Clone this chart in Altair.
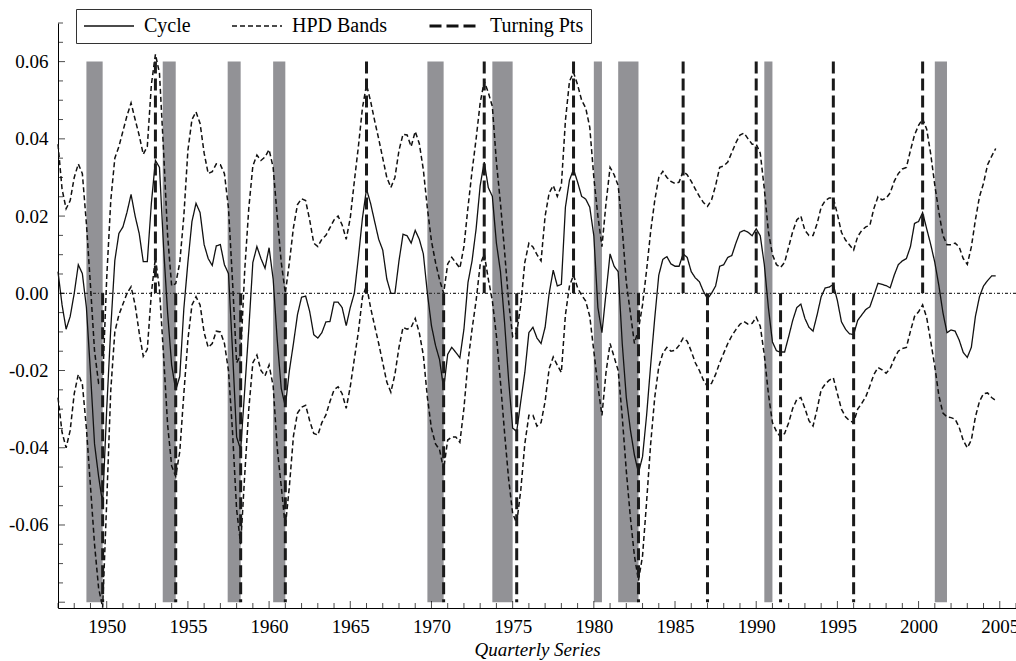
import altair as alt
import pandas as pd

# ---------------- data (quarterly, starting 1947Q1) ----------------
START_YEAR = 1947.0

cycle = [
    0.0056, -0.0030, -0.0093, -0.0060,   # 1947
    0.0000, 0.0074, 0.0051, -0.0037,     # 1948
    -0.0205, -0.0390, -0.0474, -0.0544,  # 1949
    -0.0300, -0.0090, 0.0085, 0.0155,    # 1950
    0.0172, 0.0210, 0.0256, 0.0200,      # 1951
    0.0155, 0.0082, 0.0082, 0.0233,      # 1952
    0.0344, 0.0326, 0.0120, -0.0050,     # 1953
    -0.0186, -0.0251, -0.0215, -0.0040,  # 1954
    0.0080, 0.0186, 0.0233, 0.0209,      # 1955
    0.0126, 0.0090, 0.0072, 0.0123,      # 1956
    0.0126, 0.0074, 0.0051, -0.0150,     # 1957
    -0.0372, -0.0405, -0.0250, -0.0093,  # 1958
    0.0080, 0.0121, 0.0090, 0.0065,      # 1959
    0.0118, 0.0037, -0.0120, -0.0247,    # 1960
    -0.0293, -0.0200, -0.0130, -0.0055,  # 1961
    -0.0010, -0.0007, -0.0047, -0.0107,  # 1962
    -0.0116, -0.0102, -0.0074, -0.0073,  # 1963
    -0.0023, -0.0023, -0.0037, -0.0084,  # 1964
    -0.0037, 0.0000, 0.0093, 0.0195,     # 1965
    0.0270, 0.0233, 0.0186, 0.0140,      # 1966
    0.0112, 0.0037, 0.0000, 0.0000,      # 1967
    0.0084, 0.0153, 0.0149, 0.0130,      # 1968
    0.0163, 0.0140, 0.0102, 0.0000,      # 1969
    -0.0084, -0.0135, -0.0172, -0.0247,  # 1970
    -0.0158, -0.0140, -0.0153, -0.0167,  # 1971
    -0.0093, 0.0028, 0.0084, 0.0167,     # 1972
    0.0279, 0.0340, 0.0274, 0.0251,      # 1973
    0.0130, 0.0056, -0.0074, -0.0223,    # 1974
    -0.0349, -0.0358, -0.0280, -0.0205,  # 1975
    -0.0102, -0.0088, -0.0116, -0.0130,  # 1976
    -0.0088, 0.0000, 0.0060, 0.0019,     # 1977
    0.0023, 0.0223, 0.0293, 0.0321,      # 1978
    0.0288, 0.0251, 0.0244, 0.0223,      # 1979
    0.0149, -0.0037, -0.0102, 0.0000,    # 1980
    0.0102, 0.0070, 0.0056, -0.0130,     # 1981
    -0.0270, -0.0353, -0.0419, -0.0465,  # 1982
    -0.0423, -0.0316, -0.0186, -0.0065,  # 1983
    0.0047, 0.0088, 0.0095, 0.0076,      # 1984
    0.0070, 0.0070, 0.0102, 0.0093,      # 1985
    0.0056, 0.0040, 0.0030, 0.0005,      # 1986
    -0.0014, 0.0000, 0.0019, 0.0070,     # 1987
    0.0074, 0.0093, 0.0098, 0.0130,      # 1988
    0.0158, 0.0163, 0.0158, 0.0149,      # 1989
    0.0167, 0.0149, 0.0074, -0.0037,     # 1990
    -0.0126, -0.0149, -0.0152, -0.0152,  # 1991
    -0.0112, -0.0070, -0.0037, -0.0028,  # 1992
    -0.0065, -0.0088, -0.0098, -0.0056,  # 1993
    -0.0009, 0.0014, 0.0016, 0.0023,     # 1994
    -0.0019, -0.0074, -0.0093, -0.0105,  # 1995
    -0.0107, -0.0070, -0.0056, -0.0042,  # 1996
    -0.0035, -0.0005, 0.0026, 0.0023,    # 1997
    0.0020, 0.0014, 0.0047, 0.0074,      # 1998
    0.0084, 0.0090, 0.0121, 0.0181,      # 1999
    0.0186, 0.0209, 0.0167, 0.0126,      # 2000
    0.0080, 0.0020, -0.0050, -0.0102,    # 2001
    -0.0095, -0.0098, -0.0121, -0.0153,  # 2002
    -0.0166, -0.0140, -0.0060, -0.0009,  # 2003
    0.0019, 0.0033, 0.0045, 0.0045,      # 2004
]

hpd_upper = [
    0.0386, 0.0270, 0.0219, 0.0240,      # 1947
    0.0300, 0.0335, 0.0310, 0.0180,      # 1948
    0.0020, -0.0149, -0.0233, -0.0230,   # 1949
    0.0040, 0.0240, 0.0350, 0.0380,      # 1950
    0.0420, 0.0460, 0.0493, 0.0450,      # 1951
    0.0409, 0.0360, 0.0380, 0.0540,      # 1952
    0.0619, 0.0570, 0.0370, 0.0150,      # 1953
    0.0019, 0.0025, 0.0080, 0.0200,      # 1954
    0.0370, 0.0450, 0.0470, 0.0440,      # 1955
    0.0363, 0.0310, 0.0315, 0.0335,      # 1956
    0.0333, 0.0310, 0.0220, 0.0030,      # 1957
    -0.0180, -0.0160, 0.0060, 0.0220,    # 1958
    0.0330, 0.0358, 0.0344, 0.0353,      # 1959
    0.0372, 0.0326, 0.0200, 0.0080,      # 1960
    0.0000, 0.0080, 0.0170, 0.0230,      # 1961
    0.0245, 0.0240, 0.0190, 0.0130,      # 1962
    0.0121, 0.0140, 0.0150, 0.0170,      # 1963
    0.0190, 0.0200, 0.0177, 0.0140,      # 1964
    0.0195, 0.0290, 0.0380, 0.0480,      # 1965
    0.0540, 0.0498, 0.0447, 0.0400,      # 1966
    0.0350, 0.0300, 0.0274, 0.0300,      # 1967
    0.0370, 0.0412, 0.0410, 0.0380,      # 1968
    0.0419, 0.0388, 0.0320, 0.0220,      # 1969
    0.0135, 0.0080, 0.0035, 0.0000,      # 1970
    0.0076, 0.0093, 0.0079, 0.0065,      # 1971
    0.0121, 0.0223, 0.0316, 0.0400,      # 1972
    0.0493, 0.0549, 0.0520, 0.0484,      # 1973
    0.0340, 0.0233, 0.0110, -0.0020,     # 1974
    -0.0112, -0.0102, -0.0030, 0.0080,   # 1975
    0.0130, 0.0120, 0.0100, 0.0084,      # 1976
    0.0200, 0.0260, 0.0279, 0.0251,      # 1977
    0.0279, 0.0447, 0.0549, 0.0572,      # 1978
    0.0540, 0.0500, 0.0480, 0.0430,      # 1979
    0.0300, 0.0200, 0.0121, 0.0233,      # 1980
    0.0326, 0.0307, 0.0279, 0.0167,      # 1981
    0.0028, -0.0050, -0.0130, -0.0093,   # 1982
    -0.0030, 0.0060, 0.0160, 0.0240,     # 1983
    0.0300, 0.0316, 0.0300, 0.0290,      # 1984
    0.0284, 0.0288, 0.0316, 0.0307,      # 1985
    0.0290, 0.0270, 0.0251, 0.0235,      # 1986
    0.0225, 0.0242, 0.0279, 0.0326,      # 1987
    0.0330, 0.0340, 0.0365, 0.0390,      # 1988
    0.0410, 0.0415, 0.0400, 0.0386,      # 1989
    0.0386, 0.0363, 0.0270, 0.0160,      # 1990
    0.0100, 0.0074, 0.0067, 0.0080,      # 1991
    0.0120, 0.0160, 0.0190, 0.0200,      # 1992
    0.0163, 0.0150, 0.0150, 0.0180,      # 1993
    0.0223, 0.0240, 0.0247, 0.0247,      # 1994
    0.0205, 0.0158, 0.0138, 0.0125,      # 1995
    0.0112, 0.0147, 0.0163, 0.0172,      # 1996
    0.0176, 0.0220, 0.0250, 0.0242,      # 1997
    0.0246, 0.0260, 0.0290, 0.0310,      # 1998
    0.0322, 0.0326, 0.0370, 0.0410,      # 1999
    0.0435, 0.0452, 0.0425, 0.0360,      # 2000
    0.0280, 0.0210, 0.0150, 0.0126,      # 2001
    0.0126, 0.0130, 0.0120, 0.0090,      # 2002
    0.0075, 0.0120, 0.0190, 0.0250,      # 2003
    0.0285, 0.0333, 0.0355, 0.0375,      # 2004
]

hpd_lower = [
    -0.0270, -0.0360, -0.0400, -0.0355,  # 1947
    -0.0260, -0.0210, -0.0235, -0.0350,  # 1948
    -0.0500, -0.0650, -0.0763, -0.0814,  # 1949
    -0.0540, -0.0251, -0.0100, -0.0056,  # 1950
    -0.0028, 0.0000, 0.0017, -0.0030,    # 1951
    -0.0102, -0.0163, -0.0145, 0.0000,   # 1952
    0.0093, 0.0010, -0.0160, -0.0340,    # 1953
    -0.0447, -0.0474, -0.0410, -0.0260,  # 1954
    -0.0120, -0.0030, -0.0009, -0.0030,  # 1955
    -0.0102, -0.0140, -0.0130, -0.0098,  # 1956
    -0.0100, -0.0130, -0.0200, -0.0360,  # 1957
    -0.0560, -0.0650, -0.0470, -0.0300,  # 1958
    -0.0180, -0.0160, -0.0200, -0.0214,  # 1959
    -0.0186, -0.0240, -0.0400, -0.0500,  # 1960
    -0.0605, -0.0500, -0.0370, -0.0310,  # 1961
    -0.0295, -0.0290, -0.0330, -0.0363,  # 1962
    -0.0367, -0.0335, -0.0315, -0.0280,  # 1963
    -0.0250, -0.0242, -0.0260, -0.0298,  # 1964
    -0.0242, -0.0170, -0.0100, -0.0010,  # 1965
    0.0020, -0.0037, -0.0084, -0.0130,   # 1966
    -0.0180, -0.0230, -0.0256, -0.0210,  # 1967
    -0.0140, -0.0088, -0.0093, -0.0088,  # 1968
    -0.0065, -0.0102, -0.0160, -0.0270,  # 1969
    -0.0350, -0.0390, -0.0405, -0.0456,  # 1970
    -0.0380, -0.0372, -0.0372, -0.0386,  # 1971
    -0.0298, -0.0177, -0.0093, -0.0019,  # 1972
    0.0074, 0.0102, 0.0037, -0.0019,     # 1973
    -0.0110, -0.0230, -0.0360, -0.0480,  # 1974
    -0.0570, -0.0595, -0.0510, -0.0390,  # 1975
    -0.0316, -0.0316, -0.0344, -0.0335,  # 1976
    -0.0280, -0.0195, -0.0165, -0.0186,  # 1977
    -0.0205, -0.0056, 0.0019, 0.0047,    # 1978
    0.0014, -0.0005, -0.0020, -0.0060,   # 1979
    -0.0150, -0.0240, -0.0316, -0.0205,  # 1980
    -0.0130, -0.0165, -0.0200, -0.0320,  # 1981
    -0.0460, -0.0580, -0.0680, -0.0744,  # 1982
    -0.0680, -0.0540, -0.0390, -0.0270,  # 1983
    -0.0190, -0.0155, -0.0140, -0.0150,  # 1984
    -0.0148, -0.0135, -0.0116, -0.0124,  # 1985
    -0.0150, -0.0180, -0.0200, -0.0225,  # 1986
    -0.0242, -0.0233, -0.0210, -0.0180,  # 1987
    -0.0155, -0.0130, -0.0110, -0.0094,  # 1988
    -0.0080, -0.0073, -0.0080, -0.0078,  # 1989
    -0.0062, -0.0085, -0.0160, -0.0260,  # 1990
    -0.0335, -0.0358, -0.0372, -0.0363,  # 1991
    -0.0335, -0.0298, -0.0275, -0.0270,  # 1992
    -0.0298, -0.0330, -0.0344, -0.0300,  # 1993
    -0.0250, -0.0235, -0.0225, -0.0219,  # 1994
    -0.0260, -0.0300, -0.0320, -0.0330,  # 1995
    -0.0335, -0.0300, -0.0285, -0.0268,  # 1996
    -0.0240, -0.0210, -0.0192, -0.0198,  # 1997
    -0.0207, -0.0195, -0.0170, -0.0150,  # 1998
    -0.0143, -0.0140, -0.0098, -0.0060,  # 1999
    -0.0048, -0.0030, -0.0063, -0.0125,  # 2000
    -0.0190, -0.0265, -0.0310, -0.0320,  # 2001
    -0.0322, -0.0326, -0.0347, -0.0381,  # 2002
    -0.0400, -0.0380, -0.0320, -0.0280,  # 2003
    -0.0260, -0.0258, -0.0270, -0.0278,  # 2004
]

# NBER recession shading
rec_start = [1948.75, 1953.45, 1957.45, 1960.25, 1969.75, 1973.75, 1980.0, 1981.5, 1990.5, 2001.0]
rec_end = [1949.75, 1954.25, 1958.25, 1961.0, 1970.75, 1975.0, 1980.5, 1982.75, 1991.0, 2001.75]
shade_low = -0.08
shade_high = 0.06

# Turning points
peak_years = [1953.0, 1966.0, 1973.25, 1978.75, 1985.5, 1990.0, 1994.75, 2000.25]
trough_years = [1949.75, 1954.25, 1958.25, 1961.0, 1970.75, 1975.25, 1982.75, 1987.0, 1991.5, 1996.0]
peak_span = [0.06, 0.0]
trough_span = [0.0, -0.08]

# legend labels (trailing no-break spaces only widen the legend box)
series_names = ["Cycle", "HPD Bands", "Turning Pts" + "\u00a0" * 7]
zero_level = [0.0]

x_label_values = [1950, 1955, 1960, 1965, 1970, 1975, 1980, 1985, 1990, 1995, 2000, 2005]
y_label_values = [-0.06, -0.04, -0.02, 0.0, 0.02, 0.04, 0.06]
x_tick_years = list(range(1947, 2007))
y_tick_values = [round(-0.08 + 0.005 * i, 3) for i in range(31)]

# ---------------- tables ----------------
def quarter_years(vals):
    return [START_YEAR + 0.25 * i for i in range(len(vals))]

lines_df = pd.concat([
    pd.DataFrame({"year": quarter_years(cycle), "value": cycle,
                  "series": series_names[0], "band": "cycle"}),
    pd.DataFrame({"year": quarter_years(hpd_upper), "value": hpd_upper,
                  "series": series_names[1], "band": "upper"}),
    pd.DataFrame({"year": quarter_years(hpd_lower), "value": hpd_lower,
                  "series": series_names[1], "band": "lower"}),
], ignore_index=True)

rec_df = pd.DataFrame({"year": rec_start, "end": rec_end,
                       "value": shade_low, "hi": shade_high})

tp_df = pd.concat([
    pd.DataFrame({"year": peak_years, "value": peak_span[0], "y1": peak_span[1]}),
    pd.DataFrame({"year": trough_years, "value": trough_span[0], "y1": trough_span[1]}),
], ignore_index=True)
tp_df["series"] = series_names[2]

zero_df = pd.DataFrame({"value": zero_level})
xt_df = pd.DataFrame({"year": x_tick_years})
xt_df["major"] = xt_df["year"] % 5 == 0
yt_df = pd.DataFrame({"value": y_tick_values})
yt_df["major"] = [abs(round(v / 0.02) * 0.02 - v) < 1e-9 for v in y_tick_values]

# ---------------- chart ----------------
W, H = 958, 585
FONT = "Liberation Serif"
INK = "#111111"
FS = 19

xs = alt.Scale(domain=[1947, 2006], nice=False, zero=False)
ys = alt.Scale(domain=[-0.0815, 0.07], nice=False, zero=False)

x_axis = alt.Axis(values=x_label_values, format="d", ticks=False, grid=False,
                  domainColor="black", domainWidth=1,
                  labelFont=FONT, labelFontSize=FS, labelColor="black",
                  labelPadding=9, labelFlush=False, labelOverlap=False,
                  titleFont=FONT, titleFontSize=FS, titleFontStyle="italic",
                  titleFontWeight="normal", titleColor="black", titlePadding=4)
y_axis = alt.Axis(values=y_label_values, ticks=False, grid=False,
                  domainColor="black", domainWidth=1,
                  labelExpr="replace(format(datum.value, '.2f'), '\u2212', '-')",
                  labelFont=FONT, labelFontSize=FS, labelColor="black",
                  labelPadding=10, labelFlush=False, labelOverlap=False)

X_TITLE = "Quarterly Series"
Y_TITLE = ""


def xenc(field):
    return alt.X(field, scale=xs, axis=x_axis, title=X_TITLE)


def yenc(field):
    return alt.Y(field, scale=ys, axis=y_axis, title=Y_TITLE)


dash_scale = alt.Scale(domain=series_names, range=[[1, 0], [5, 3], [12, 5]])
width_scale = alt.Scale(type="ordinal", domain=series_names, range=[1.3, 1.5, 3.0])
legend = alt.Legend(title=None, orient="none", legendX=18, legendY=-14,
                    direction="horizontal", symbolType="stroke", symbolSize=2500,
                    symbolStrokeColor=INK, labelFont=FONT, labelFontSize=20,
                    labelColor="black", labelOffset=9, labelLimit=400,
                    columnPadding=40, clipHeight=20, padding=7,
                    strokeColor="#333333", fillColor="white", cornerRadius=0)

bars = alt.Chart(rec_df).mark_rect(color="#929296").encode(
    x=xenc("year:Q"), x2="end:Q",
    y=yenc("value:Q"), y2="hi:Q",
)

zero_rule = alt.Chart(zero_df).mark_rule(color="#333333", strokeWidth=1.2,
                                         strokeDash=[3, 2, 1, 2]).encode(
    y=yenc("value:Q"),
)

lines = alt.Chart(lines_df).mark_line(color=INK).encode(
    x=xenc("year:Q"),
    y=yenc("value:Q"),
    strokeDash=alt.StrokeDash("series:N", scale=dash_scale, legend=legend),
    strokeWidth=alt.StrokeWidth("series:O", scale=width_scale, legend=legend),
    detail="band:N",
)

turning = alt.Chart(tp_df).mark_rule(color="#1a1a1a").encode(
    x=xenc("year:Q"),
    y=yenc("value:Q"),
    y2="y1:Q",
    strokeDash=alt.StrokeDash("series:N", scale=dash_scale, legend=legend),
    strokeWidth=alt.StrokeWidth("series:O", scale=width_scale, legend=legend),
)

x_minor = alt.Chart(xt_df).transform_filter("!datum.major").mark_tick(
    color="black", thickness=1, size=5).encode(
    x=xenc("year:Q"), y=alt.value(H - 2.5))
x_major = alt.Chart(xt_df).transform_filter("datum.major").mark_tick(
    color="black", thickness=1, size=7).encode(
    x=xenc("year:Q"), y=alt.value(H - 3.5))
y_minor = alt.Chart(yt_df).transform_filter("!datum.major").mark_tick(
    color="black", thickness=1, size=5).encode(
    y=yenc("value:Q"), x=alt.value(2.5))
y_major = alt.Chart(yt_df).transform_filter("datum.major").mark_tick(
    color="black", thickness=1, size=7).encode(
    y=yenc("value:Q"), x=alt.value(3.5))

chart = alt.layer(bars, zero_rule, lines, turning, x_minor, x_major, y_minor, y_major).properties(
    width=W, height=H,
    padding={"left": 58, "top": 23, "right": 0, "bottom": 53},
    autosize=alt.AutoSizeParams(type="none"),
    background="white",
).configure_view(strokeWidth=0)

chart.save("out.html", embed_options={"renderer": "svg", "actions": False})
